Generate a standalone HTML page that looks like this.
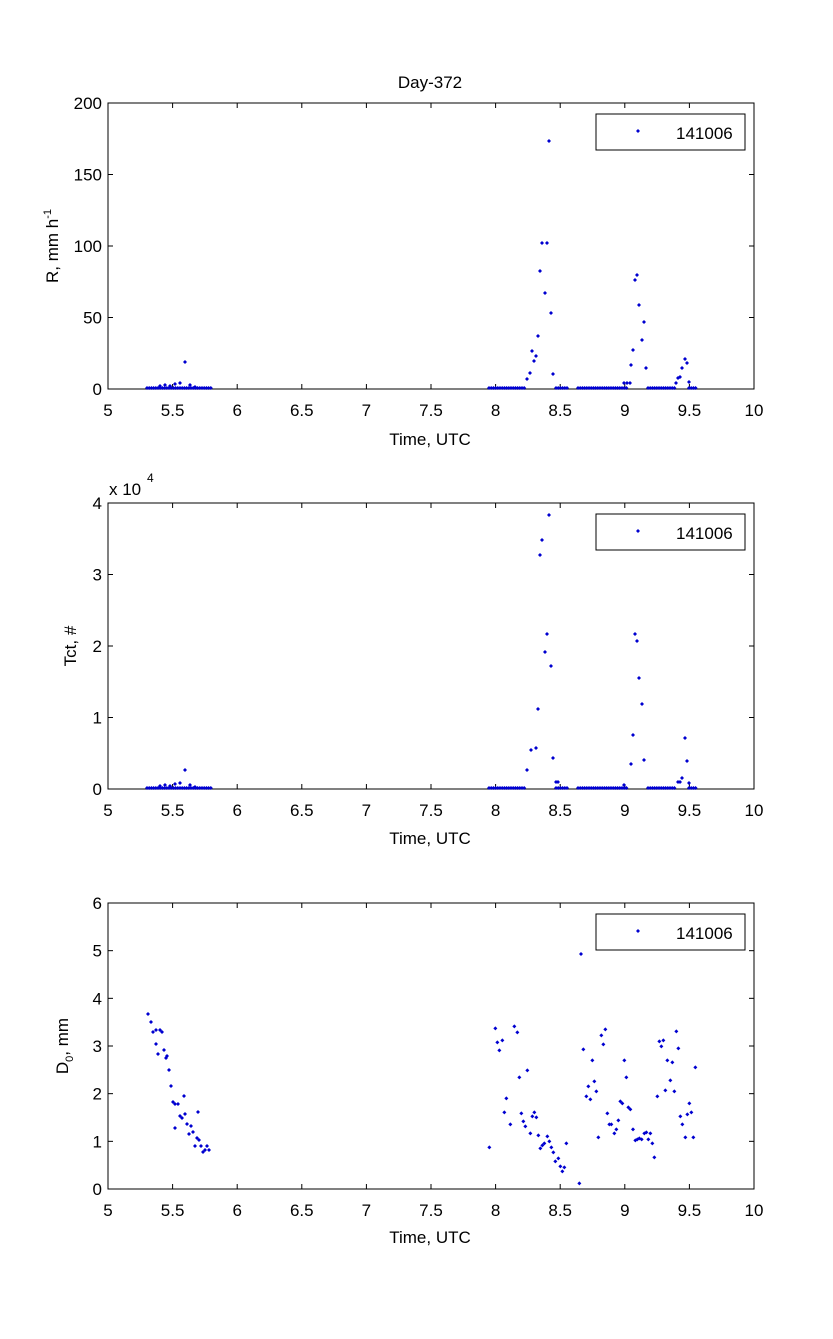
<!DOCTYPE html>
<html><head><meta charset="utf-8"><style>
body{margin:0;background:#fff}
svg text{font-family:"Liberation Sans",sans-serif;font-size:17px;fill:#000}
</style></head><body>
<svg id="s" width="833" height="1334" xmlns="http://www.w3.org/2000/svg">
<defs><path id="m" d="M-2,0 L0,-2 2,0 0,2Z" fill="#0000d0"/></defs>
<rect width="833" height="1334" fill="#fff"/>
<text x="430" y="88" text-anchor="middle">Day-372</text>
<g id="axes"></g>
<g id="pts"></g>
<text x="430" y="445" text-anchor="middle">Time, UTC</text>
<text x="430" y="844" text-anchor="middle">Time, UTC</text>
<text x="430" y="1243" text-anchor="middle">Time, UTC</text>
<text x="109" y="495">x 10</text><text x="147" y="482" style="font-size:12px">4</text>
<text transform="translate(58,246) rotate(-90)" text-anchor="middle">R, mm h<tspan dy="-7" style="font-size:11px">-1</tspan></text>
<text transform="translate(76,646) rotate(-90)" text-anchor="middle">Tct, #</text>
<text transform="translate(68,1046) rotate(-90)" text-anchor="middle">D<tspan dy="5" style="font-size:11px">0</tspan><tspan dy="-5">, mm</tspan></text>
</svg>
<script>
var NS="http://www.w3.org/2000/svg",ax=document.getElementById('axes'),P=document.getElementById('pts');
function el(t,a,p,tx){var e=document.createElementNS(NS,t);for(var k in a)e.setAttribute(k,a[k]);if(tx!=null)e.textContent=tx;(p||ax).appendChild(e);return e;}
function pt(x,y){el('use',{href:'#m',x:x,y:y},P);}
var L=108,R=754,tops=[103,503,903],ylab=[[0,50,100,150,200],[0,1,2,3,4],[0,1,2,3,4,5,6]];
tops.forEach(function(T,i){var B=T+286;
el('rect',{x:L,y:T,width:R-L,height:286,fill:'none',stroke:'#000','stroke-width':1});
for(var k=0;k<=10;k++){var x=L+k*64.6;el('line',{x1:x,y1:B,x2:x,y2:B-5,stroke:'#000'});el('line',{x1:x,y1:T,x2:x,y2:T+5,stroke:'#000'});
var lab=(5+k*0.5);el('text',{x:x,y:B+27,'text-anchor':'middle'},null,lab);}
var n=ylab[i].length-1;ylab[i].forEach(function(v,j){var y=B-j*286/n;el('line',{x1:L,y1:y,x2:L+5,y2:y,stroke:'#000'});el('line',{x1:R,y1:y,x2:R-5,y2:y,stroke:'#000'});el('text',{x:102,y:y+6,'text-anchor':'end'},null,v);});
el('rect',{x:596,y:T+11,width:149,height:36,fill:'#fff',stroke:'#000'});
el('use',{href:'#m',x:638,y:T+28});el('text',{x:676,y:T+36},null,'141006');
});
function base(B,x0,x1,step,off){for(var x=x0;x<=x1;x+=step)pt(x,B-off);}
[389,789].forEach(function(B){base(B,147,211,2.2,1);base(B,489,526,2.2,1);base(B,556,569,2.2,1);base(B,578,628,2.2,1);base(B,648,676,2.2,1);base(B,689,697,2.2,1);
[[160,3],[165,4],[170,3],[175,5],[180,6],[190,4],[195,2]].forEach(function(p){pt(p[0],B-p[1]);});});
pt(185,362);pt(185,770);
[[527,379],[530,373],[532,351],[534,361],[536,356],[538,336],[540,271],[542,243],[547,243],[545,293],[549,141],[551,313],[553,374],[624,383],[627,383],[630,383],[631,365],[633,350],[635,280],[637,275],[639,305],[642,340],[644,322],[646,368],[676,383],[678,378],[680,377],[682,368],[685,359],[687,363],[689,382]].forEach(function(p){pt(p[0],p[1]);});
[[527,770],[531,750],[536,748],[538,709],[540,555],[542,540],[545,652],[547,634],[549,515],[551,666],[553,758],[556,782],[558,782],[624,785],[631,764],[633,735],[635,634],[637,641],[639,678],[642,704],[644,760],[678,782],[680,782],[682,778],[685,738],[687,761],[689,783]].forEach(function(p){pt(p[0],p[1]);});
var z=[[118,562],[136,205],[142,247],[148,271],[157,241],[163,457],[169,415],[181,493],[193,199],[202,217],[208,352],[214,460],[220,484],[226,499],[232,331],[241,520],[247,469],[253,457],[259,472],[265,526],[271,565],[277,556],[283,550],[292,529],[298,544],[304,562],[310,577],[316,604],[325,595],[331,619],[337,634],[343,622],[349,550],[388,670],[400,268],[409,409],[415,379],[421,418],[427,301],[433,364],[439,394],[445,532],[454,226],[460,253],[466,208],[472,460],[478,493],[484,493],[493,520],[499,508],[505,481],[511,424],[517,430],[523,301],[529,352],[535,442],[541,448],[549,508],[556,541],[562,538],[568,535],[575,538],[583,520],[589,517],[595,538],[601,520],[607,550],[613,592],[622,409],[628,244],[634,259],[640,241],[646,391],[652,301],[661,361],[667,307],[673,394],[679,214],[685,265],[691,469],[697,493],[706,532],[712,463],[718,430],[724,457],[730,532],[736,322]];
z.forEach(function(p){pt(450+p[0]/3,960+p[1]/3);});pt(581,954);
[[148,1014],[151,1022],[153,1032],[156,1030],[156,1044],[158,1054],[160,1030],[162,1032],[164,1050],[166,1058],[167,1056],[169,1070],[171,1086],[173,1102],[175,1104],[175,1128],[178,1104],[180,1116],[182,1118],[184,1096],[185,1114],[187,1124],[189,1134],[191,1126],[193,1132],[195,1146],[197,1138],[198,1112],[199,1140],[201,1146],[203,1152],[205,1150],[207,1146],[209,1150]].forEach(function(p){pt(p[0],p[1]);});
</script>
</body></html>
